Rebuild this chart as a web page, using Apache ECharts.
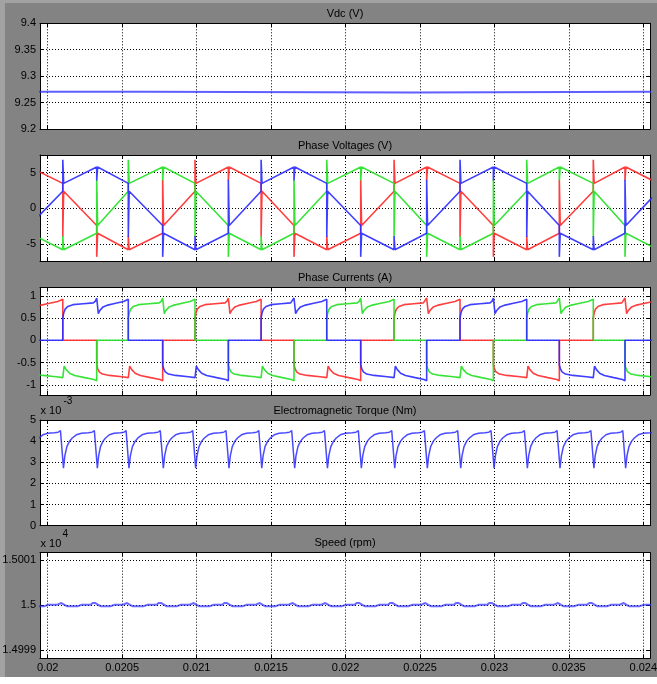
<!DOCTYPE html>
<html><head><meta charset="utf-8">
<script src="https://cdn.jsdelivr.net/npm/echarts@6/dist/echarts.min.js"></script>
<style>html,body{margin:0;padding:0;background:#fff}#chart{width:657px;height:684px}</style>
</head><body><div id="chart"></div>
<script>
// ---------- data ----------
const xTicks = [0.02, 0.0205, 0.021, 0.0215, 0.022, 0.0225, 0.023, 0.0235, 0.024];
const xTickLabels = ['0.02','0.0205','0.021','0.0215','0.022','0.0225','0.023','0.0235','0.024'];
const xRange = [0.019948, 0.024045];

const titles = ['Vdc (V)', 'Phase Voltages (V)', 'Phase Currents (A)', 'Electromagnetic Torque (Nm)', 'Speed (rpm)'];

// Vdc trace (V)
const vdcPoints = [[0.01990, 9.2706], [0.020672, 9.2706], [0.020672, 9.2690], [0.022445, 9.2690], [0.022445, 9.2706], [0.02410, 9.2706]];

// commutation instants (s)
const commutationTimes = [0.019878, 0.020101, 0.020329, 0.020541, 0.020772, 0.020989, 0.021213,
  0.021433, 0.021654, 0.021874, 0.022102, 0.022326, 0.022545, 0.022769, 0.022993, 0.023217,
  0.023436, 0.023664, 0.023877, 0.024100];

// state of each phase in each 60-degree interval
const redStates   = ['+2','f-','-1','-2','f+','+1','+2','f-','-1','-2','f+','+1','+2','f-','-1','-2','f+','+1','+2'];
const greenStates = ['-1','-2','f+','+1','+2','f-','-1','-2','f+','+1','+2','f-','-1','-2','f+','+1','+2','f-','-1'];
const blueStates  = ['f+','+1','+2','f-','-1','-2','f+','+1','+2','f-','-1','-2','f+','+1','+2','f-','-1','-2','f+'];

// phase voltage: [start, end] of each interval (V)
const voltageLevels = {'+1':[3.5,5.8], '+2':[5.8,3.5], 'f-':[2.4,-2.4], '-1':[-3.5,-5.8], '-2':[-5.8,-3.5], 'f+':[-2.4,2.4]};
// switching spike values (V)
const voltageSpikes = {'f+>+1':6.8, 'f->-1':-6.8, '+2>f-':-4.0, '-2>f+':4.0, '+1>+2':3.9, '-1>-2':-3.9};

// phase current shape inside an interval: [fraction of interval, A]
const currentShapes = {
  '+1': [[0,0],[0,0.5],[0.03,0.62],[0.07,0.7],[0.15,0.76],[0.3,0.8],[0.6,0.82],[0.9,0.84],[0.96,0.88],[1,0.95]],
  '+2': [[0,0.95],[0.05,0.6],[0.1,0.67],[0.2,0.75],[0.35,0.79],[0.6,0.83],[0.85,0.87],[1,0.92],[1,0]],
  '-1': [[0,0],[0,-0.55],[0.03,-0.64],[0.08,-0.71],[0.18,-0.76],[0.4,-0.79],[0.8,-0.82],[1,-0.84]],
  '-2': [[0,-0.84],[0.04,-0.58],[0.1,-0.66],[0.2,-0.74],[0.35,-0.79],[0.65,-0.84],[0.92,-0.88],[1,-0.91],[1,0]],
  'f+': [[0,0],[1,0]],
  'f-': [[0,0],[1,0]]
};

// torque ripple in one interval: [fraction, x1e-3 Nm]
const torqueShape = [[0.02,2.72],[0.06,3.3],[0.12,3.74],[0.2,4.0],[0.28,4.15],[0.4,4.3],[0.55,4.37],[0.75,4.4],[0.86,4.42],[0.93,4.5],[0.97,4.58]];

// speed ripple in one interval: [fraction, rpm offset]
const speedBase = 15000;
const speedShape = [[0.05,0],[0.12,-0.03],[0.45,-0.03],[0.55,0],[0.82,0],[0.88,0.04],[0.96,0.04],[1,0]];

const vTicks = [-5, 0, 5];
const iTicks = [-1, -0.5, 0, 0.5, 1];
const speedTicks = [14999, 15000, 15001];

// ---------- build series ----------
function voltageSeries(states) {
  const pts = []; const dt = 0.000006;
  states.forEach((s, i) => {
    const t0 = commutationTimes[i], t1 = commutationTimes[i + 1];
    const [a, b] = voltageLevels[s];
    if (i > 0) {
      const sp = voltageSpikes[states[i - 1] + '>' + s];
      pts.push([t0, sp], [t0 + dt, sp], [t0 + dt, a]);
    } else pts.push([t0, a]);
    pts.push([t1, b]);
  });
  return pts;
}
function currentSeries(states) {
  const pts = [];
  states.forEach((s, i) => {
    const t0 = commutationTimes[i], t1 = commutationTimes[i + 1];
    currentShapes[s].forEach(([u, v]) => pts.push([t0 + u * (t1 - t0), v]));
  });
  return pts;
}
function rippleSeries(shape, scale, offset) {
  const pts = [];
  for (let i = 0; i < commutationTimes.length - 1; i++) {
    const t0 = commutationTimes[i], t1 = commutationTimes[i + 1];
    shape.forEach(([u, v]) => pts.push([t0 + u * (t1 - t0), offset + v * scale]));
  }
  return pts;
}

const FONT = "'Liberation Sans', Arial, Helvetica, sans-serif";
const boxes = [[23.3, 129], [155, 261.7], [287.3, 395], [420, 525.7], [552.7, 658.3]];
const yCfg = [
  {min: 9.2, max: 9.4, interval: 0.05},
  {min: -7.48, max: 7.48, custom: vTicks},
  {min: -1.23, max: 1.19, custom: iTicks},
  {min: 0, max: 0.005, interval: 0.001, fmt: v => String(Math.round(v * 1000))},
  {min: 14998.81, max: 15001.16, custom: speedTicks, fmt: v => String(v / 1e4)}
];

const axisLine = {show: true, onZero: false, lineStyle: {color: '#000', width: 1}};
const tick = {show: true, inside: true, length: 4, lineStyle: {color: '#000', width: 1}};
const gridLine = {show: true, lineStyle: {color: '#000', width: 1, type: [1, 2]}};
const labelStyle = {color: '#000', fontSize: 11, fontFamily: FONT};

const grid = [], xAxis = [], yAxis = [];
boxes.forEach(([t, b], i) => {
  grid.push({left: 40, width: 610, top: t, height: b - t, show: true, backgroundColor: '#fff', borderWidth: 0, outerBoundsMode: 'none', containLabel: false});
  xAxis.push({gridIndex: i, type: 'value', min: xRange[0], max: xRange[1], position: 'bottom',
    axisLine, axisTick: Object.assign({customValues: xTicks}, tick),
    axisLabel: Object.assign({show: i === 4, customValues: xTicks, margin: 4,
      formatter: v => { let k = 0; xTicks.forEach((x, j) => { if (Math.abs(x - v) < Math.abs(xTicks[k] - v)) k = j; }); return xTickLabels[k]; }}, labelStyle),
    splitLine: gridLine});
  xAxis.push({gridIndex: i, type: 'value', min: xRange[0], max: xRange[1], position: 'top',
    axisLine, axisTick: Object.assign({customValues: xTicks}, tick), axisLabel: {show: false}, splitLine: {show: false}});
  const c = yCfg[i];
  const base = {gridIndex: i, type: 'value', min: c.min, max: c.max};
  if (c.interval) base.interval = c.interval;
  const lab = Object.assign({show: true, margin: 4}, labelStyle);
  if (c.fmt) lab.formatter = c.fmt;
  const tk = Object.assign({}, tick);
  if (c.custom) { lab.customValues = c.custom; tk.customValues = c.custom; }
  yAxis.push(Object.assign({}, base, {position: 'left', axisLine, axisTick: tk, axisLabel: lab, splitLine: gridLine}));
  yAxis.push(Object.assign({}, base, {position: 'right', axisLine, axisTick: tk, axisLabel: {show: false}, splitLine: {show: false}}));
});

function line(i, data, color, width, opacity) {
  return {type: 'line', xAxisIndex: 2 * i, yAxisIndex: 2 * i, data, showSymbol: false, symbol: 'none',
    lineStyle: {color, width: width || 1.6, opacity: opacity == null ? 0.9 : opacity}, silent: true, animation: false, clip: true};
}
const RED = '#ff2a2a', GREEN = '#22e022', BLUE = '#2a2aff';
const series = [
  line(0, vdcPoints, BLUE, 2, 0.75),
  line(1, voltageSeries(redStates), RED), line(1, voltageSeries(greenStates), GREEN), line(1, voltageSeries(blueStates), BLUE),
  line(2, currentSeries(redStates), RED), line(2, currentSeries(greenStates), GREEN), line(2, currentSeries(blueStates), BLUE),
  line(3, rippleSeries(torqueShape, 0.001, 0), BLUE, 1.5, 0.85),
  line(4, rippleSeries(speedShape, 1, speedBase), BLUE, 2, 0.7)
];

const graphic = [
  {type: 'rect', shape: {x: 0, y: 0, width: 657, height: 3}, style: {fill: '#a2a2a2'}, silent: true},
  {type: 'rect', shape: {x: 0, y: 0, width: 5, height: 677}, style: {fill: '#a2a2a2'}, silent: true},
  {type: 'rect', shape: {x: 0, y: 677, width: 657, height: 7}, style: {fill: '#ffffff'}, silent: true}
];
boxes.forEach(([t], i) => graphic.push({type: 'text', x: 345, y: t - 9.5, silent: true,
  style: {text: titles[i], align: 'center', verticalAlign: 'middle', fontSize: 11, fontFamily: FONT, fill: '#000'}}));
graphic.push(
  {type: 'text', x: 40.5, y: 410.7, style: {text: 'x 10', verticalAlign: 'middle', fontSize: 11, fontFamily: FONT, fill: '#000'}},
  {type: 'text', x: 63.5, y: 401.7, style: {text: '-3', verticalAlign: 'middle', fontSize: 10, fontFamily: FONT, fill: '#000'}},
  {type: 'text', x: 40.5, y: 544, style: {text: 'x 10', verticalAlign: 'middle', fontSize: 11, fontFamily: FONT, fill: '#000'}},
  {type: 'text', x: 62.5, y: 534, style: {text: '4', verticalAlign: 'middle', fontSize: 10, fontFamily: FONT, fill: '#000'}}
);

const chart = echarts.init(document.getElementById('chart'), null, {renderer: 'canvas'});
chart.setOption({backgroundColor: '#838383', animation: false, grid, xAxis, yAxis, series, graphic});
</script></body></html>
